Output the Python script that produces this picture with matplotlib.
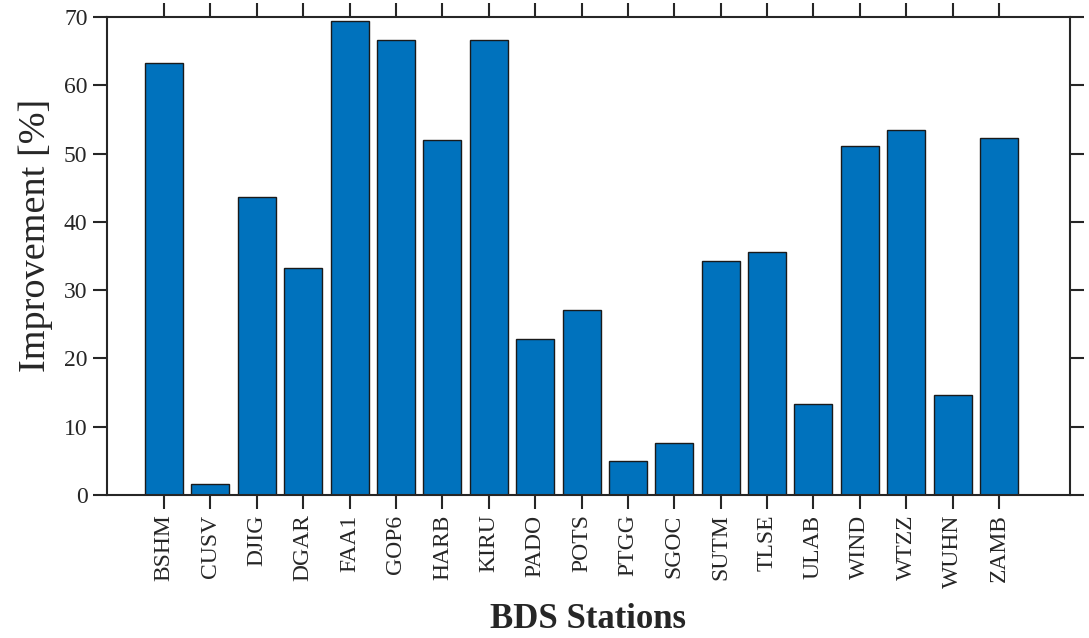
import numpy as np
import matplotlib.pyplot as plt

stations = ['BSHM', 'CUSV', 'DJIG', 'DGAR', 'FAA1', 'GOP6', 'HARB', 'KIRU', 'PADO',
            'POTS', 'PTGG', 'SGOC', 'SUTM', 'TLSE', 'ULAB', 'WIND', 'WTZZ', 'WUHN', 'ZAMB']
improvement = [63.3, 1.6, 43.6, 33.2, 69.4, 66.6, 52.0, 66.7, 22.8,
               27.1, 5.0, 7.6, 34.3, 35.6, 13.3, 51.1, 53.4, 14.6, 52.3]
y_ticks = [0, 10, 20, 30, 40, 50, 60, 70]

plt.rcParams['font.family'] = ['Liberation Serif', 'DejaVu Serif']
ink = '#262626'

fig = plt.figure(figsize=(10.89, 6.38), dpi=100)
ax = fig.add_axes([107 / 1089, 1 - 495 / 638, (1070 - 107) / 1089, (495 - 17) / 638])

x = np.arange(len(stations))
ax.bar(x, improvement, width=0.82, color='#0072BD', edgecolor='#1a1a1a', linewidth=1.0)

ax.set_xlim(-1.23, len(stations) - 1 + 1.53)
ax.set_ylim(0, 70)
ax.set_yticks(y_ticks)
ax.set_xticks(x)
ax.set_xticklabels(stations, rotation=90, fontsize=17, color=ink)
ax.tick_params(axis='y', labelsize=17, labelcolor=ink)
ax.tick_params(direction='out', length=10, width=1.5, color=ink,
               top=True, right=True, pad=4)

for side in ax.spines.values():
    side.set_linewidth(1.5)
    side.set_color(ink)

ax.set_ylabel('Improvement [%]', fontsize=27.5, color=ink)
ax.yaxis.set_label_coords(-0.056, 0.544)
ax.set_xlabel('BDS Stations', fontsize=25, fontweight='bold', color=ink, labelpad=11)

fig.savefig('out.png', dpi=100)
